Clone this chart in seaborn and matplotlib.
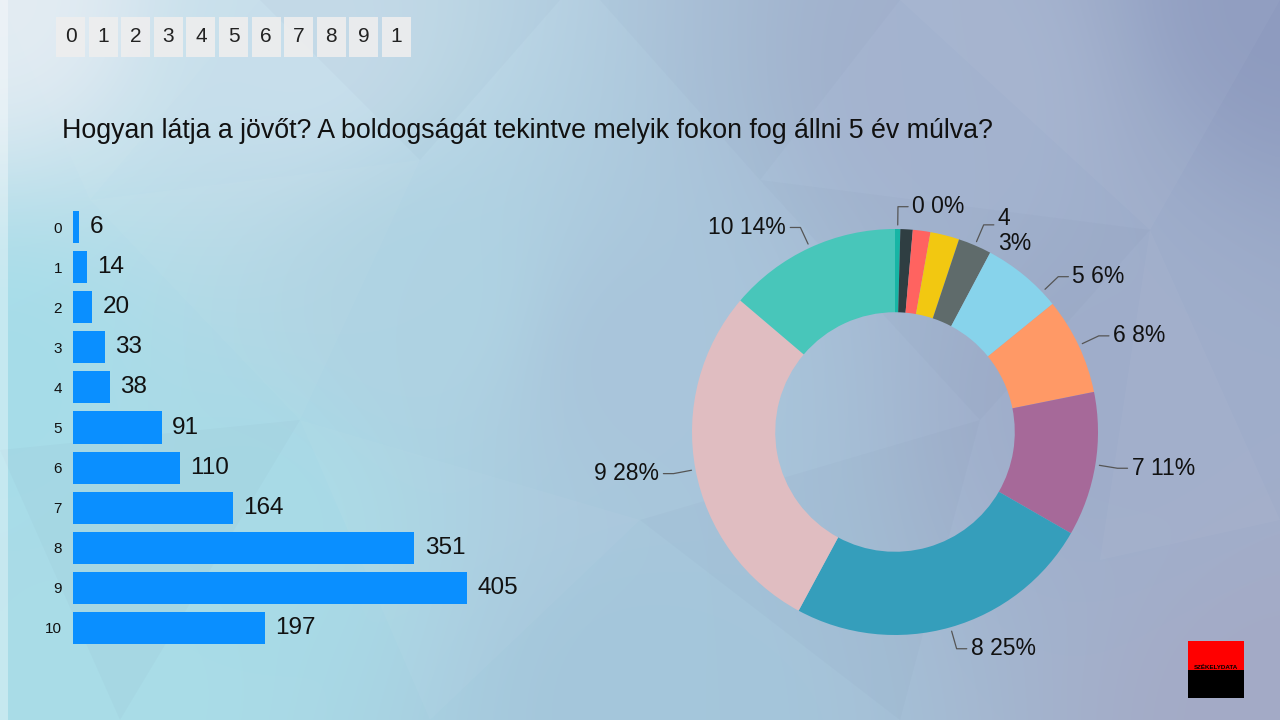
import numpy as np
import matplotlib
matplotlib.use("Agg")
import matplotlib.pyplot as plt
import matplotlib.patches as mpatches
import seaborn as sns
import pandas as pd

# ---------------- data ----------------
categories = ["0", "1", "2", "3", "4", "5", "6", "7", "8", "9", "10"]
counts = [6, 14, 20, 33, 38, 91, 110, 164, 351, 405, 197]
top_digits = ["0", "1", "2", "3", "4", "5", "6", "7", "8", "9", "1"]
title = "Hogyan látja a jövőt? A boldogságát tekintve melyik fokon fog állni 5 év múlva?"
pie_colors = ["#17b5a5", "#2f3e42", "#ff6360", "#f2c811", "#5f6b6b", "#87d3eb",
              "#ff9966", "#a66999", "#359ebb", "#e0bdc1", "#48c6ba"]
labelled = ["0", "4", "5", "6", "7", "8", "9", "10"]

sns.set_style("white")
plt.rcParams["font.family"] = ["Liberation Sans", "DejaVu Sans"]

W, H = 1280, 720
fig = plt.figure(figsize=(12.8, 7.2), dpi=100)

# ---------------- background gradient ----------------
bg = fig.add_axes([0, 0, 1, 1])
bg.set_axis_off()
anchors = [
    ((0, 0), "#e2ecf3"), ((300, 40), "#c8dfec"), ((0, 380), "#a6dde9"),
    ((120, 680), "#a9dde8"), ((640, 360), "#a9c5db"), ((1280, 0), "#8e9bbf"),
    ((1280, 720), "#a4aac6"), ((950, 90), "#a4b3cf"), ((640, 700), "#a4c6db"),
    ((1100, 400), "#9fadca"), ((420, 300), "#afd3e3"), ((250, 520), "#a8dbe7"),
]
yy, xx = np.mgrid[0:H:4, 0:W:4]
num = np.zeros(xx.shape + (3,))
den = np.zeros(xx.shape)
for (ax_, ay_), c in anchors:
    rgb = np.array(matplotlib.colors.to_rgb(c))
    d2 = (xx - ax_) ** 2 + (yy - ay_) ** 2
    w = 1.0 / (d2 + 2000.0) ** 1.4
    num += w[..., None] * rgb
    den += w
img = num / den[..., None]
bg.imshow(img, extent=[0, W, H, 0], aspect="auto", interpolation="bilinear")
# subtle facets
facets = [
    [(0, 0), (260, 0), (90, 200)], [(260, 0), (560, 0), (420, 160)],
    [(90, 200), (420, 160), (300, 420)], [(600, 0), (900, 0), (760, 180)],
    [(900, 0), (1280, 0), (1150, 230)], [(760, 180), (1150, 230), (980, 420)],
    [(300, 420), (640, 520), (430, 720)], [(640, 520), (980, 420), (900, 720)],
    [(1150, 230), (1280, 520), (1100, 560)], [(0, 450), (300, 420), (120, 720)],
]
for i, tri in enumerate(facets):
    shade = "white" if i % 2 == 0 else "#5a6a90"
    bg.add_patch(mpatches.Polygon(tri, closed=True, facecolor=shade,
                                  alpha=0.035, edgecolor="none"))
bg.add_patch(mpatches.Rectangle((0, 0), 8, H, facecolor="white", alpha=0.35, edgecolor="none"))
bg.set_xlim(0, W)
bg.set_ylim(H, 0)

# ---------------- top digit boxes ----------------
for i, d in enumerate(top_digits):
    x0 = 56 + i * 32.6
    bg.add_patch(mpatches.Rectangle((x0, 17), 29, 40, facecolor="#eeeeee",
                                    alpha=0.9, edgecolor="none"))
    bg.text(x0 + 14.5, 37, d, ha="center", va="center", fontsize=15, color="#222222")

# ---------------- title ----------------
bg.text(62, 131, title, ha="left", va="center", fontsize=19.3, color="#111111")

# ---------------- bar chart ----------------
px_per_unit = 394 / 405
ax_left, ax_w_px = 73, 560
axb = fig.add_axes([ax_left / W, (H - 648) / H, ax_w_px / W, 441 / H])
df = pd.DataFrame({"cat": categories, "count": counts})
sns.barplot(data=df, x="count", y="cat", order=categories, orient="h",
            color="#0a8fff", saturation=1, width=0.8, linewidth=0, ax=axb)
axb.set_xlim(0, ax_w_px / px_per_unit)
axb.set_ylim(10.5, -0.5)
axb.patch.set_alpha(0)
for s in axb.spines.values():
    s.set_visible(False)
axb.set_xticks([])
axb.set_xlabel("")
axb.set_ylabel("")
axb.tick_params(axis="y", length=0, pad=8, labelsize=11, colors="#111111")
for bar, v in zip(axb.patches, counts):
    axb.annotate(str(v), (bar.get_width(), bar.get_y() + bar.get_height() / 2),
                 xytext=(7.5, 0), textcoords="offset points", ha="left", va="center",
                 fontsize=17.5, color="#111111")

# ---------------- donut ----------------
cx, cy, R = 895, 432, 203
lim = 1.3
size = 2 * R * lim
axp = fig.add_axes([(cx - size / 2) / W, (H - cy - size / 2) / H, size / W, size / H])
axp.set_axis_off()
wedges, _ = axp.pie(counts, colors=pie_colors, startangle=90, counterclock=False,
                    radius=1.0, wedgeprops=dict(width=0.41, linewidth=0))
axp.set_xlim(-lim, lim)
axp.set_ylim(-lim, lim)
axp.set_aspect("equal")
total = sum(counts)
for w, cat, v in zip(wedges, categories, counts):
    if cat not in labelled:
        continue
    ang = np.deg2rad((w.theta1 + w.theta2) / 2)
    if cat == "5":
        ang -= np.deg2rad(7)
    ca, sa = np.cos(ang), np.sin(ang)
    x1, y1 = 1.02 * ca, 1.02 * sa
    x2, y2 = 1.11 * ca, 1.11 * sa
    side = 1 if ca >= -0.05 else -1
    x3 = x2 + side * 0.05
    axp.plot([x1, x2, x3], [y1, y2, y2], color="#555555", lw=0.9)
    pct = round(100 * v / total)
    txt = f"{cat} {pct}%" if cat != "4" else f"{cat}\n{pct}%"
    yoff = -0.03 if cat == "4" else 0
    axp.text(x3 + side * 0.02, y2 + yoff, txt, ha="left" if side > 0 else "right",
             va="center", fontsize=16.5, color="#111111", linespacing=1.1)

# ---------------- logo ----------------
bg.add_patch(mpatches.Rectangle((1188, 641), 56, 29, facecolor="#ff0000", edgecolor="none"))
bg.add_patch(mpatches.Rectangle((1188, 670), 56, 28, facecolor="#000000", edgecolor="none"))
bg.text(1216, 667, "SZÉKELYDATA", ha="center", va="center", fontsize=4.5,
        fontweight="bold", color="#000000")

fig.savefig("out.png", dpi=100)
